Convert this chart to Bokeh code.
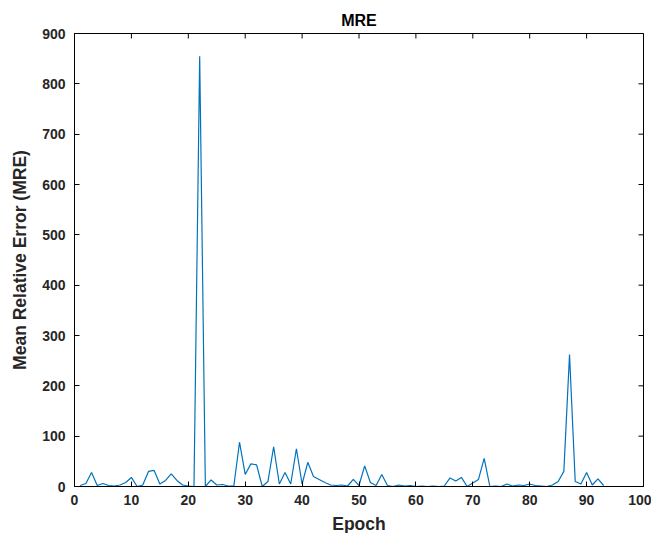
import math
from bokeh.plotting import figure
from bokeh.models import Range1d, SingleIntervalTicker
from bokeh.embed import file_html
from bokeh.resources import INLINE

epochs = list(range(1, 94))
mre = [2, 6, 28, 2, 6, 2, 1, 3, 8, 18,
       0, 3, 30, 32, 5, 12, 25, 12, 3, 1,
       0, 855, 0, 13, 3, 4, 1, 1, 88, 24,
       45, 43, 0, 10, 79, 5, 28, 5, 75, 5,
       48, 20, 14, 8, 3, 2, 3, 1, 14, 2,
       41, 8, 2, 24, 2, 0, 3, 1, 2, 0,
       1, 0, 1, 0, 1, 17, 11, 18, 0, 7,
       14, 56, 0, 1, 0, 5, 1, 3, 2, 5,
       2, 1, 0, 3, 10, 30, 262, 10, 5, 28,
       3, 15, 2]

x_ticks = list(range(0, 101, 10))
y_ticks = list(range(0, 901, 100))

title_text = "MRE"
x_label = "Epoch"
y_label = "Mean Relative Error (MRE)"

FONT = "Liberation Sans"
TXT = "#262626"

p = figure(frame_width=569, frame_height=453, output_backend="svg", toolbar_location=None,
           x_range=Range1d(x_ticks[0], x_ticks[-1]), y_range=Range1d(y_ticks[0], y_ticks[-1]),
           min_border_left=74, min_border_right=8, min_border_top=33,
           min_border_bottom=45)

p.title.text = title_text
p.title.align = "center"
p.title.text_font = FONT
p.title.text_font_size = "16px"
p.title.text_font_style = "bold"
p.title.text_color = "black"
p.title.standoff = 9

p.line(epochs, mre, line_color="#0072BD", line_width=1.2)

# inward ticks on the top and right edges (MATLAB box style)
p.scatter(x_ticks, [y_ticks[-1]] * len(x_ticks), marker="dash", size=10,
          angle=math.pi / 2, line_color="black", line_width=1)
p.scatter([x_ticks[-1]] * len(y_ticks), y_ticks, marker="dash", size=10,
          line_color="black", line_width=1)

p.grid.visible = False
p.outline_line_color = "black"
p.outline_line_width = 1
p.background_fill_color = "white"
p.border_fill_color = "white"

for ax, tick in ((p.xaxis[0], 10), (p.yaxis[0], 100)):
    ax.ticker = SingleIntervalTicker(interval=tick)
    ax.major_tick_in = 5
    ax.major_tick_out = 0
    ax.minor_tick_line_color = None
    ax.axis_line_color = "black"
    ax.major_tick_line_color = "black"
    ax.major_label_text_font = FONT
    ax.major_label_text_font_size = "14px"
    ax.major_label_text_font_style = "bold"
    ax.major_label_text_color = TXT
    ax.axis_label_text_font = FONT
    ax.axis_label_text_font_size = "17.5px"
    ax.axis_label_text_font_style = "bold"
    ax.axis_label_text_color = TXT

p.xaxis.axis_label = x_label
p.yaxis.axis_label = y_label
p.xaxis.major_label_standoff = 4
p.xaxis.axis_label_standoff = 6
p.yaxis.major_label_standoff = 5
p.yaxis.axis_label_standoff = 9

open("out.html", "w").write(file_html(p, INLINE))
